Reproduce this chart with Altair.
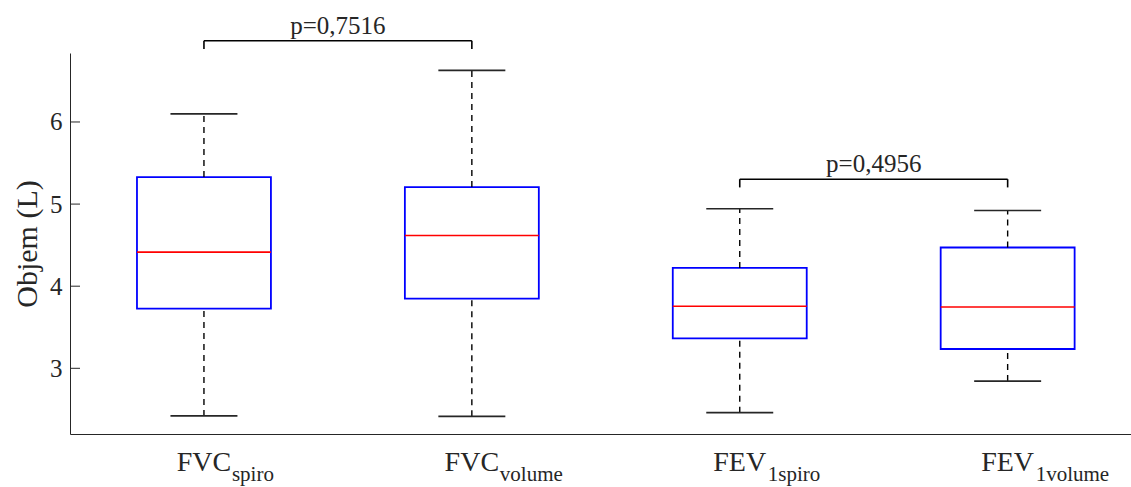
import altair as alt
import pandas as pd

# ---- data ----
positions = [1, 2, 3, 4]
main_labels = ["FVC", "FVC", "FEV", "FEV"]
sub_labels = ["spiro", "volume", "1spiro", "1volume"]
lower_whisker = [2.42, 2.415, 2.46, 2.845]
q1 = [3.727, 3.849, 3.365, 3.235]
median = [4.415, 4.617, 3.756, 3.747]
q3 = [5.329, 5.207, 4.223, 4.471]
upper_whisker = [6.098, 6.629, 4.943, 4.922]
y_ticks = [3, 4, 5, 6]
pair_left = [1, 3]
pair_right = [2, 4]
p_labels = ["p=0,7516", "p=0,4956"]

FONT = "Liberation Serif"
TXT = "#262626"
W, H = 1061, 381

box_df = pd.DataFrame(dict(pos=positions, main=main_labels, sub=sub_labels,
                           lo=lower_whisker, q1=q1, med=median, q3=q3, hi=upper_whisker))
tick_df = pd.DataFrame(dict(t=y_ticks))

br_rows, end_rows = [], []
for a, b, lab in zip(pair_left, pair_right, p_labels):
    top = max(upper_whisker[a - 1], upper_whisker[b - 1]) + 0.36
    br_rows.append(dict(x1=a, x2=b, xm=(a + b) / 2, yb=top, label=lab))
    for p in (a, b):
        end_rows.append(dict(x=p, yb=top, yd=top - 0.1))
br_df = pd.DataFrame(br_rows)
end_df = pd.DataFrame(end_rows)

xscale = alt.Scale(domain=[0.5, 0.5 + W / 267.9], nice=False, zero=False)
yscale = alt.Scale(domain=[2.2, 6.84], nice=False, zero=False)
xaxis = alt.Axis(labels=False, ticks=False, title=None, grid=False,
                 domainColor=TXT, domainWidth=1)
yaxis = alt.Axis(values=y_ticks, ticks=False, grid=False, title="Objem (L)",
                 labelFont=FONT, labelFontSize=25, labelColor=TXT, labelPadding=8,
                 titleFont=FONT, titleFontSize=30, titleFontWeight="normal",
                 titleColor=TXT, titlePadding=7, domainColor=TXT, domainWidth=1)


def X(f):
    return alt.X(f, type="quantitative", scale=xscale, axis=xaxis)


def Y(f):
    return alt.Y(f, type="quantitative", scale=yscale, axis=yaxis)


base = alt.Chart(box_df).transform_calculate(
    xl="datum.pos - 0.25", xr="datum.pos + 0.25",
    cl="datum.pos - 0.125", cr="datum.pos + 0.125")

boxes = base.mark_rect(fill="white", fillOpacity=0, stroke="#0000FF", strokeWidth=1.8).encode(
    x=X("xl"), x2="xr", y=Y("q1"), y2="q3")
med = base.mark_rule(color="#FF0000", strokeWidth=1.6).encode(
    x=X("xl"), x2="xr", y=Y("med"))
wh_up = base.mark_rule(color="black", strokeWidth=1.4, strokeDash=[6, 5]).encode(
    x=X("pos"), y=Y("q3"), y2="hi")
wh_lo = base.mark_rule(color="black", strokeWidth=1.4, strokeDash=[6, 5]).encode(
    x=X("pos"), y=Y("lo"), y2="q1")
cap_up = base.mark_rule(color="#262626", strokeWidth=1.7).encode(
    x=X("cl"), x2="cr", y=Y("hi"))
cap_lo = base.mark_rule(color="#262626", strokeWidth=1.7).encode(
    x=X("cl"), x2="cr", y=Y("lo"))

ticks = alt.Chart(tick_df).mark_rule(color=TXT, strokeWidth=1).encode(
    x=alt.value(0), x2=alt.value(10), y=Y("t"))

lab_main = base.mark_text(font=FONT, fontSize=28, align="center", baseline="alphabetic",
                          color=TXT).encode(x=X("pos"), y=alt.value(H + 37), text="main")
lab_sub = base.mark_text(font=FONT, fontSize=21, align="left", baseline="alphabetic",
                         dx=28, color=TXT).encode(x=X("pos"), y=alt.value(H + 47), text="sub")

br_h = alt.Chart(br_df).mark_rule(color="black", strokeWidth=1.6).encode(
    x=X("x1"), x2="x2", y=Y("yb"))
br_v = alt.Chart(end_df).mark_rule(color="black", strokeWidth=1.6).encode(
    x=X("x"), y=Y("yb"), y2="yd")
br_t = alt.Chart(br_df).mark_text(font=FONT, fontSize=25, align="center",
                                  baseline="alphabetic", dy=-7, color=TXT).encode(
    x=X("xm"), y=Y("yb"), text="label")

chart = alt.layer(boxes, med, wh_up, wh_lo, cap_up, cap_lo, ticks,
                  lab_main, lab_sub, br_h, br_v, br_t).properties(
    width=W, height=H,
    autosize=alt.AutoSizeParams(type="none"),
    padding={"left": 70, "top": 53, "right": 0, "bottom": 53},
).configure(background="white").configure_view(stroke=None)

chart.save("out.html", embed_options={"renderer": "svg", "actions": False})
